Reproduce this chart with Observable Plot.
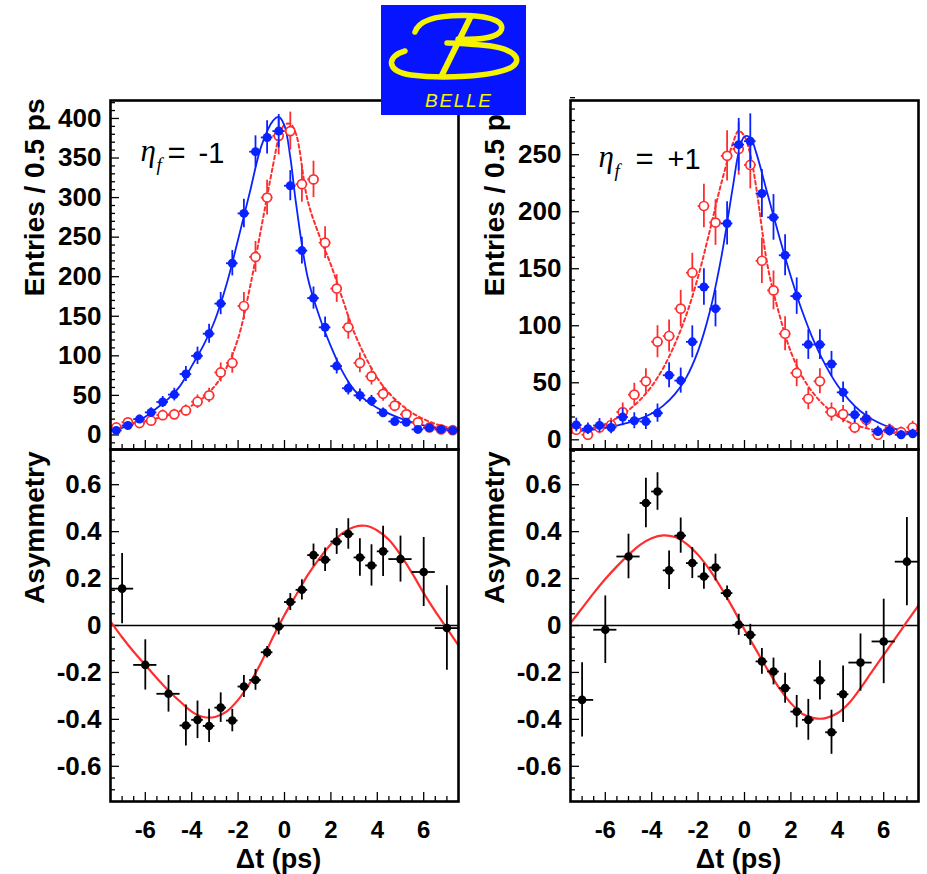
<!DOCTYPE html>
<html>
<head>
<meta charset="utf-8">
<script src="https://cdn.jsdelivr.net/npm/d3@7"></script>
<script src="https://cdn.jsdelivr.net/npm/@observablehq/plot@0.6"></script>
<style>
  body { margin: 0; background: #fff; }
  #chart { position: relative; width: 927px; height: 874px; overflow: hidden; background: #fff; }
  #chart svg { position: absolute; overflow: visible; }
</style>
</head>
<body>
<div id="chart"></div>
<script>
// ---- Δt histograms: 0.5 ps bins ----
const binT = [-7.25,-6.75,-6.25,-5.75,-5.25,-4.75,-4.25,-3.75,-3.25,-2.75,-2.25,-1.75,-1.25,-0.75,-0.25,
              0.25,0.75,1.25,1.75,2.25,2.75,3.25,3.75,4.25,4.75,5.25,5.75,6.25,6.75,7.25];

// eta_f = -1 : B0 tags (blue, filled) and anti-B0 tags (red, open)
const minusB0 = [5.7,12,20,28.5,41.6,51,77,100,128,166,217,280,358,376,384,315,233,173,136,87,59,50,43,28,17,16,7,9,7,5.7];
const minusB0Err = [3,4,5,6,7,8,9.5,11,12,14,16,18,20,21,21,19,17,14,13,10,8.5,8,7,6,4.5,4.5,3,3.5,3,3];
const minusB0bar = [9.5,16,15,18,25,26,31,42,50,79,91,163,225,300,378,384,317,323,243,185,136,91,74,52,37,26,16,9.5,7,6];
const minusB0barErr = [4,5,5,5.5,6.5,6.5,7,8.5,9,12,13,17,19.5,22,24,24,23,23,20,17.5,15,12.5,11,9.5,8,6.5,5,4,3.5,3];

// eta_f = +1
const plusB0 = [13,9.7,12.6,10.8,19.9,16.7,16,23.4,56.6,51.9,85.9,134,115,189.7,258.8,261.8,216,195,161.8,126,83.5,83.5,66.5,41.6,22,18.5,7.3,8.2,4.4,5.3];
const plusB0Err = [6,5,6,5.5,7.5,7,7,8,11,11,14,16,16,19,23,24,21,20,18,16,13,13,11,9,7,6.5,4.5,5,3.5,4];
const plusB0bar = [8.8,4.4,10.8,13,24.3,39.6,51.3,86,91,115,146.5,205,190.5,249,255,241,157,131,93,58.6,36,51.3,24.3,22.5,10.8,17.6,4.4,8.8,6.7,10.8];
const plusB0barErr = [5,4,5.5,6,8,10,11,14,14,16,17,19,20,22,23,21,20,17,15,12,9.5,11,8,7.5,5.5,7,3.5,5,4.5,5.5];

// ---- fit curves for the histograms ----
const fitT = [-7.5,-7,-6.5,-6,-5.5,-5,-4.5,-4,-3.5,-3,-2.5,-2,-1.5,-1,-0.5,-0.25,0,0.25,0.5,1,1.5,2,2.5,3,3.5,4,4.5,5,5.5,6,6.5,7,7.5];
const minusFitB0 = [5.3,9,15,23,34,46,62,87,113,145,190,247,306,365,397,402,391,351,292,199,150,112,80,57,44,34,27,21,16,12,9.5,7.9,6.6];
const minusFitB0bar = [8,11,14,17,21,25,30,37,47,62,85,122,185,262,340,375,392,393,380,296,252,215,172,130,98,72,53,39,28,20,14,10,7.5];
const plusFitB0 = [7,8,9,10.5,12.5,15,18.5,23,30,40,55,78,112,160,222,252,266,265,252,215,178,143,112,86,65,48,35,25,18,13,9.5,7,5.5];
const plusFitB0bar = [6,8,10.5,14,19,26,35,47,63,84,110,143,183,225,260,271,266,250,222,152,110,77,55,40,29,21,15.5,11.5,9,7,6,5,4.5];

// ---- asymmetry: variable-width bins ----
const asymT = [-7,-6,-5,-4.25,-3.75,-3.25,-2.75,-2.25,-1.75,-1.25,-0.75,-0.25,0.25,0.75,1.25,1.75,2.25,2.75,3.25,3.75,4.25,5,6,7];
const asymHalf = [0.5,0.5,0.5,0.25,0.25,0.25,0.25,0.25,0.25,0.25,0.25,0.25,0.25,0.25,0.25,0.25,0.25,0.25,0.25,0.25,0.25,0.5,0.5,0.5];
const minusAsym = [0.157,-0.168,-0.291,-0.426,-0.402,-0.428,-0.35,-0.405,-0.26,-0.232,-0.114,-0.004,0.1,0.152,0.30,0.28,0.358,0.39,0.29,0.256,0.316,0.283,0.228,-0.011];
const minusAsymErr = [0.15,0.107,0.078,0.087,0.08,0.071,0.063,0.048,0.047,0.044,0.025,0.036,0.036,0.043,0.047,0.05,0.055,0.065,0.08,0.088,0.107,0.098,0.147,0.18];
const plusAsym = [-0.317,-0.018,0.294,0.522,0.571,0.235,0.383,0.266,0.209,0.247,0.138,0.003,-0.04,-0.153,-0.196,-0.267,-0.367,-0.402,-0.234,-0.455,-0.293,-0.158,-0.068,0.272];
const plusAsymErr = [0.158,0.144,0.095,0.105,0.08,0.082,0.075,0.066,0.055,0.057,0.03,0.045,0.045,0.055,0.057,0.064,0.069,0.087,0.084,0.094,0.12,0.122,0.18,0.188];

// asymmetry fit curves
const asymFitT = [-7.5,-7,-6.5,-6,-5.5,-5,-4.5,-4,-3.5,-3,-2.5,-2,-1.5,-1,-0.5,0,0.5,1,1.5,2,2.5,3,3.5,4,4.5,5,5.5,6,6.5,7,7.5];
const minusAsymFit = [0.018,-0.05,-0.112,-0.168,-0.225,-0.278,-0.324,-0.367,-0.39,-0.39,-0.367,-0.317,-0.246,-0.157,-0.05,0.045,0.13,0.215,0.285,0.346,0.394,0.42,0.425,0.405,0.365,0.301,0.223,0.138,0.06,-0.012,-0.085];
const plusAsymFit = [0.01,0.074,0.138,0.198,0.252,0.301,0.344,0.372,0.384,0.377,0.348,0.301,0.237,0.159,0.074,-0.018,-0.104,-0.189,-0.267,-0.331,-0.377,-0.395,-0.395,-0.374,-0.331,-0.267,-0.195,-0.125,-0.055,0.016,0.086];

// ---- axis ticks ----
const xTicks = [-6,-4,-2,0,2,4,6];
const minusYTicks = [0,50,100,150,200,250,300,350,400];
const plusYTicks = [0,50,100,150,200,250];
const asymTicks = [-0.6,-0.4,-0.2,0,0.2,0.4,0.6];

const xMinor = d3.range(-7, 7.01, 0.5).filter(v => Math.abs(v % 2) > 1e-9);
const minor = (lo, hi, step, major) =>
  d3.range(lo, hi + step / 2, step).map(v => +v.toFixed(3)).filter(v => !major.some(m => Math.abs(m - v) < 1e-6));

const BLUE = "#0a22ff";
const RED = "#ff2e2e";
const FONT = "'Liberation Sans', Arial, Helvetica, sans-serif";
const SERIF = "'Liberation Serif', 'DejaVu Serif', serif";
const fmt = d => `${d}`;

const W = 470, ML = 110, MR = 12;
const innerW = W - ML - MR;

function histMarks(rows, color, open) {
  return [
    Plot.ruleX(rows, {x: "t", y1: d => d.n - d.e, y2: d => d.n + d.e, stroke: color, strokeWidth: 1.8}),
    Plot.ruleY(rows, {y: "n", x1: d => d.t - 0.25, x2: d => d.t + 0.25, stroke: color, strokeWidth: 1.8}),
    Plot.dot(rows, {x: "t", y: "n", r: 4.5, fill: open ? "white" : color, stroke: color, strokeWidth: open ? 1.7 : 0})
  ];
}

// "η_f = ±1" tag in the corner of a histogram panel
function etaLabel(e) {
  const common = {text: d => d, frameAnchor: "top-left", textAnchor: "start", lineAnchor: "bottom", fontWeight: "normal"};
  return [
    Plot.text(["η"], {...common, dx: e.dx, dy: e.dy, fontFamily: SERIF, fontStyle: "italic", fontSize: 31}),
    Plot.text(["f"], {...common, dx: e.dx + 16, dy: e.dy + 10, fontFamily: SERIF, fontStyle: "italic", fontSize: 19}),
    Plot.text(["="], {...common, dx: e.dx + e.eq, dy: e.dy + 2, fontSize: 31}),
    Plot.text([e.value], {...common, dx: e.dx + e.gap, dy: e.dy + 2, fontSize: 29})
  ];
}

function histPanel(o) {
  const H = 449, MT = 100;
  const innerH = H - MT;
  const blue = binT.map((t, i) => ({t, n: o.b0[i], e: o.b0Err[i]}));
  const red = binT.map((t, i) => ({t, n: o.b0bar[i], e: o.b0barErr[i]}));
  const fitB = fitT.map((t, i) => ({t, v: o.fitB0[i]}));
  const fitR = fitT.map((t, i) => ({t, v: o.fitB0bar[i]}));
  return Plot.plot({
    width: W, height: H,
    marginLeft: ML, marginRight: MR, marginTop: MT, marginBottom: 0,
    x: {domain: [-7.5, 7.5], axis: null},
    y: {domain: o.yDomain},
    style: {fontFamily: FONT, fontWeight: "bold", fontSize: "26px", color: "black", background: "transparent", overflow: "visible"},
    marks: [
      Plot.ruleY(minor(-10, o.yDomain[1], 10, o.yTicks), {insetRight: innerW - 5, stroke: "black", strokeWidth: 1.3}),
      Plot.ruleY(o.yTicks, {insetRight: innerW - 9, stroke: "black", strokeWidth: 1.3}),
      Plot.ruleX(xMinor, {insetTop: innerH - 5, stroke: "black", strokeWidth: 1.3}),
      Plot.ruleX(xTicks, {insetTop: innerH - 9, stroke: "black", strokeWidth: 1.3}),
      Plot.axisY(o.yTicks, {tickSize: 0, tickPadding: 9, tickFormat: fmt, label: null, fontSize: 26}),
      Plot.text(["Entries / 0.5 ps"], {text: d => d, frameAnchor: "top-left", rotate: -90, textAnchor: "end", lineAnchor: "bottom",
        dx: -67, dy: -2, fontSize: 28}),
      Plot.line(fitR, {x: "t", y: "v", curve: "catmull-rom", stroke: RED, strokeWidth: 2, strokeDasharray: "3.5,3", clip: true}),
      Plot.line(fitB, {x: "t", y: "v", curve: "catmull-rom", stroke: BLUE, strokeWidth: 1.8, clip: true}),
      ...histMarks(red, RED, true),
      ...histMarks(blue, BLUE, false),
      ...etaLabel(o.eta),
      Plot.frame({stroke: "black", strokeWidth: 2.6})
    ]
  });
}

function asymPanel(o) {
  const H = 425, MB = 73;
  const innerH = H - MB;
  const pts = asymT.map((t, i) => ({t, a: o.vals[i], e: o.errs[i], h: asymHalf[i]}));
  const fit = asymFitT.map((t, i) => ({t, a: o.fit[i]}));
  return Plot.plot({
    width: W, height: H,
    marginLeft: ML, marginRight: MR, marginTop: 0, marginBottom: MB,
    x: {domain: [-7.5, 7.5]},
    y: {domain: [-0.75, 0.75]},
    style: {fontFamily: FONT, fontWeight: "bold", fontSize: "26px", color: "black", background: "transparent", overflow: "visible"},
    marks: [
      Plot.ruleY(minor(-0.7, 0.7, 0.05, asymTicks), {insetRight: innerW - 5, stroke: "black", strokeWidth: 1.3}),
      Plot.ruleY(asymTicks, {insetRight: innerW - 9, stroke: "black", strokeWidth: 1.3}),
      Plot.ruleX(xMinor, {insetTop: innerH - 5, stroke: "black", strokeWidth: 1.3}),
      Plot.ruleX(xTicks, {insetTop: innerH - 9, stroke: "black", strokeWidth: 1.3}),
      Plot.axisY(asymTicks, {tickSize: 0, tickPadding: 9, tickFormat: fmt, label: null, fontSize: 26}),
      Plot.axisX(xTicks, {tickSize: 0, tickPadding: 19, tickFormat: fmt, label: null, fontSize: 24}),
      Plot.text(["Asymmetry"], {text: d => d, frameAnchor: "top-left", rotate: -90, textAnchor: "end", lineAnchor: "bottom",
        dx: -67, dy: 2, fontSize: 28}),
      Plot.text(["Δt (ps)"], {text: d => d, frameAnchor: "bottom", dx: -6, dy: 66, lineAnchor: "bottom", fontSize: 27}),
      Plot.ruleY([0], {stroke: "black", strokeWidth: 1.4}),
      Plot.line(fit, {x: "t", y: "a", curve: "catmull-rom", stroke: RED, strokeWidth: 2.2, clip: true}),
      Plot.ruleX(pts, {x: "t", y1: d => d.a - d.e, y2: d => d.a + d.e, stroke: "black", strokeWidth: 1.8}),
      Plot.ruleY(pts, {y: "a", x1: d => d.t - d.h, x2: d => d.t + d.h, stroke: "black", strokeWidth: 1.8, clip: true}),
      Plot.dot(pts, {x: "t", y: "a", r: 4.3, fill: "black"}),
      Plot.frame({stroke: "black", strokeWidth: 2.6})
    ]
  });
}

const chart = document.getElementById("chart");
function place(svg, left, top) {
  svg.style.left = left + "px";
  svg.style.top = top + "px";
  chart.appendChild(svg);
}

place(histPanel({
  b0: minusB0, b0Err: minusB0Err, b0bar: minusB0bar, b0barErr: minusB0barErr,
  fitB0: minusFitB0, fitB0bar: minusFitB0bar,
  yDomain: [-18.4, 422.7], yTicks: minusYTicks,
  eta: {dx: 30, dy: 60, eq: 27, gap: 58, value: "-1"}
}), 0, 0);
place(histPanel({
  b0: plusB0, b0Err: plusB0Err, b0bar: plusB0bar, b0barErr: plusB0barErr,
  fitB0: plusFitB0, fitB0bar: plusFitB0bar,
  yDomain: [-8.5, 297.5], yTicks: plusYTicks,
  eta: {dx: 28, dy: 66, eq: 37, gap: 69, value: "+1"}
}), 460, 0);
place(asymPanel({vals: minusAsym, errs: minusAsymErr, fit: minusAsymFit}), 0, 449);
place(asymPanel({vals: plusAsym, errs: plusAsymErr, fit: plusAsymFit}), 460, 449);

// experiment logo, drawn over the top of the panels
const ns = "http://www.w3.org/2000/svg";
const logo = d3.create("svg").attr("xmlns", ns).attr("width", 145).attr("height", 110)
  .style("left", "381px").style("top", "5px");
logo.append("rect").attr("width", 145).attr("height", 110).attr("fill", "#0614ff");
const Y = "#f4f400";
logo.append("path").attr("d", "M34,27 C38,14 58,10 85,10.5 C112,11 126,18 119,27 C112,34 92,35 77,34")
  .attr("fill", "none").attr("stroke", Y).attr("stroke-width", 5.5).attr("stroke-linecap", "round");
logo.append("path").attr("d", "M24,46 C6,51 4,66 30,70 C60,74 112,72 131,62 C143,54 132,42 100,40 C86,39 74,38 66,38")
  .attr("fill", "none").attr("stroke", Y).attr("stroke-width", 5.5).attr("stroke-linecap", "round");
logo.append("path").attr("d", "M90,11 L61,70")
  .attr("stroke", Y).attr("stroke-width", 6).attr("stroke-linecap", "round");
logo.append("text").attr("x", 44).attr("y", 102).attr("fill", Y)
  .attr("font-family", FONT).attr("font-style", "italic").attr("font-size", 19).attr("textLength", 66)
  .text("BELLE");
chart.appendChild(logo.node());
</script>
</body>
</html>
